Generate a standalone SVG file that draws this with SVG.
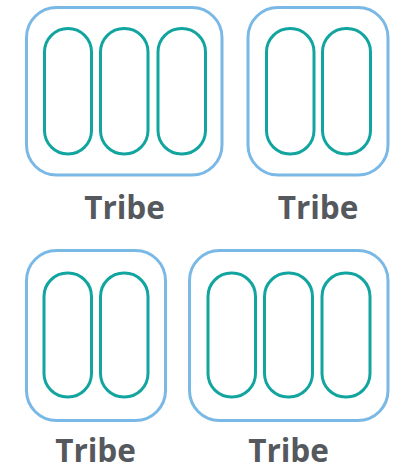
<svg xmlns="http://www.w3.org/2000/svg" width="405" height="467" viewBox="0 0 405 467">
<style>
.box{fill:#fff;stroke:#7ab8e6;stroke-width:3}
.pill{fill:none;stroke:#12a5a0;stroke-width:3}
.lbl{font-family:"Open Sans","Liberation Sans",sans-serif;font-weight:bold;font-size:31.5px;fill:#55585d;text-anchor:middle}
</style>
<rect width="405" height="467" fill="#fff"/>
<g id="tribe1">
<rect class="box" x="26.5" y="7.5" width="195.5" height="167.5" rx="30"/>
<rect class="pill" x="44.5" y="28.5" width="47" height="125.5" rx="23.5"/>
<rect class="pill" x="100.5" y="28.5" width="47.5" height="125.5" rx="23.5"/>
<rect class="pill" x="158" y="28.5" width="47.5" height="125.5" rx="23.5"/>
<text class="lbl" x="124.5" y="219">Tribe</text>
</g>
<g id="tribe2">
<rect class="box" x="248" y="7.5" width="140" height="167.5" rx="30"/>
<rect class="pill" x="266.5" y="28.5" width="47.5" height="125.5" rx="23.5"/>
<rect class="pill" x="322.5" y="28.5" width="48" height="125.5" rx="23.5"/>
<text class="lbl" x="318" y="219">Tribe</text>
</g>
<g id="tribe3">
<rect class="box" x="26.5" y="250.5" width="139" height="170" rx="30"/>
<rect class="pill" x="44" y="273" width="47.5" height="124" rx="23.5"/>
<rect class="pill" x="100.5" y="273" width="47.5" height="124" rx="23.5"/>
<text class="lbl" x="95.5" y="462">Tribe</text>
</g>
<g id="tribe4">
<rect class="box" x="189.5" y="250.5" width="198.5" height="170" rx="30"/>
<rect class="pill" x="208" y="273" width="47.5" height="124" rx="23.5"/>
<rect class="pill" x="264.5" y="273" width="48" height="124" rx="23.5"/>
<rect class="pill" x="322" y="273" width="48" height="124" rx="23.5"/>
<text class="lbl" x="288.5" y="462">Tribe</text>
</g>
<g id="connectors"/>
</svg>
